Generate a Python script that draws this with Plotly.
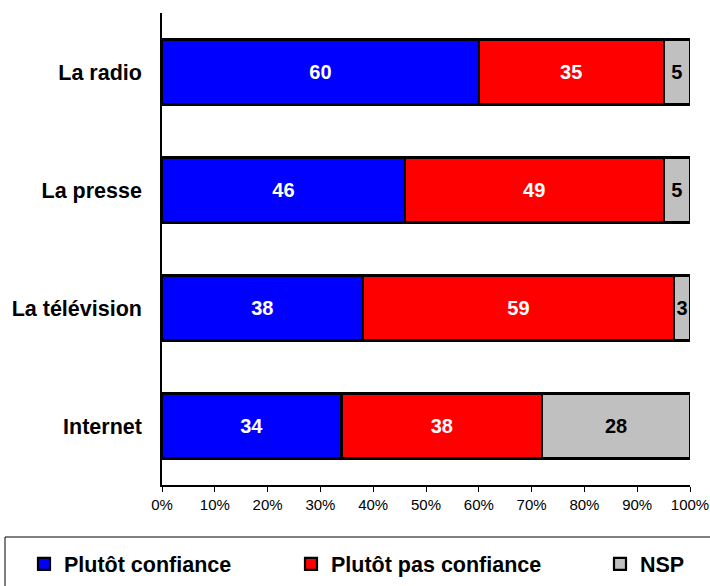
import plotly.graph_objects as go

categories = ["La radio", "La presse", "La télévision", "Internet"]
confiance = [60, 46, 38, 34]
pas_confiance = [35, 49, 59, 38]
nsp = [5, 5, 3, 28]
series_names = ["Plutôt confiance", "Plutôt pas confiance", "NSP"]
colors = ["#0000FF", "#FF0000", "#C0C0C0"]
text_colors = ["white", "white", "black"]
tick_vals = [0, 10, 20, 30, 40, 50, 60, 70, 80, 90, 100]

FONT = "Liberation Sans, Arial, sans-serif"
W, H = 710, 586
L, R, T, B = 162, 20, 13, 101
PW, PH = W - L - R, H - T - B

def px_x(px):
    return (px - L) / PW

def px_y(py):
    return (H - B - py) / PH

legend_ids = ["legend", "legend2", "legend3"]
legend_text_x = [64, 331, 640]

fig = go.Figure()
for name, vals, col, tc, lid in zip(series_names, [confiance, pas_confiance, nsp], colors, text_colors, legend_ids):
    fig.add_trace(go.Bar(
        y=categories, x=vals, name=name, orientation="h",
        marker=dict(color=col, line=dict(color="black", width=2.2)),
        text=[str(v) for v in vals], textposition="inside", insidetextanchor="middle",
        textfont=dict(color=tc, size=20, family=FONT, weight="bold"),
        constraintext="none", width=0.55, legend=lid,
    ))

legend_layouts = {}
for lid, tx in zip(legend_ids, legend_text_x):
    legend_layouts[lid] = dict(
        orientation="h", x=px_x(tx - 40), xanchor="left", y=px_y(564), yanchor="middle",
        font=dict(size=21.5, family=FONT, weight="bold", color="black"),
        bgcolor="rgba(0,0,0,0)", itemwidth=30,
    )

fig.update_layout(
    barmode="stack",
    width=W, height=H,
    margin=dict(l=L, r=R, t=T, b=B, autoexpand=False),
    plot_bgcolor="white", paper_bgcolor="white",
    font=dict(family=FONT, color="black"),
    showlegend=True,
    uniformtext=dict(mode=False),
    **legend_layouts,
)
fig.update_xaxes(
    range=[0, 100], tickvals=tick_vals, ticktext=[f"{v}%" for v in tick_vals],
    showline=True, linecolor="black", linewidth=1.5, ticks="outside", ticklen=5,
    tickcolor="black", showgrid=False, zeroline=False, automargin=False,
    tickfont=dict(size=15, family=FONT, color="black"),
)
fig.update_yaxes(
    categoryorder="array", categoryarray=categories,
    range=[3.5, -0.5], automargin=False,
    showline=True, linecolor="black", linewidth=1.5, ticks="", showgrid=False,
    tickfont=dict(size=21.5, family=FONT, weight="bold", color="black"),
    ticklabelstandoff=14,
)
fig.add_shape(type="rect", xref="paper", yref="paper",
              x0=px_x(5), x1=px_x(720), y0=px_y(537), y1=px_y(600),
              line=dict(color="black", width=1), fillcolor="rgba(0,0,0,0)")

fig.write_html(
    "out.html",
    config={"displayModeBar": False},
    post_script="document.body.style.margin='0';document.body.style.overflow='hidden';",
)
